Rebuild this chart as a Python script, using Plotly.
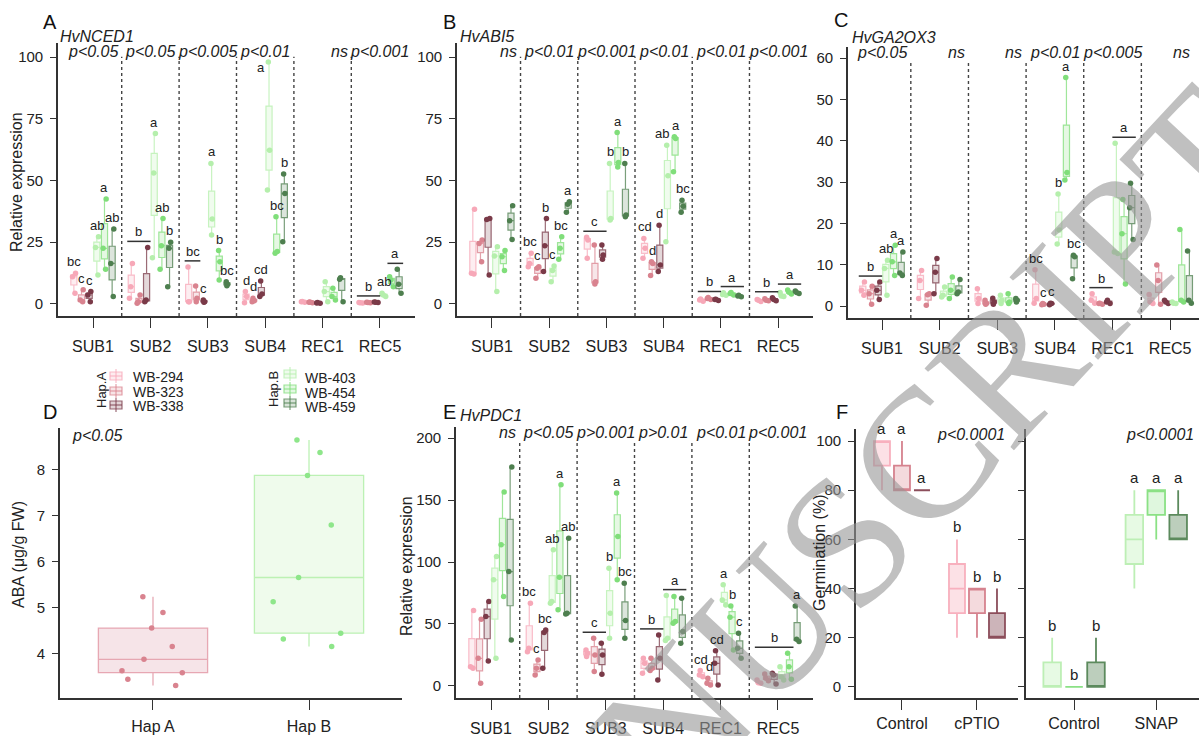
import plotly.graph_objects as go

W, H = 1199, 736
FONT = "Liberation Sans, Arial, sans-serif"

TIMEPOINTS = ["SUB1", "SUB2", "SUB3", "SUB4", "REC1", "REC5"]
GENOTYPES = ["WB-294", "WB-323", "WB-338", "WB-403", "WB-454", "WB-459"]
BASE_RGB = [(247, 168, 184), (217, 131, 143), (122, 58, 72),
            (181, 239, 172), (128, 222, 122), (78, 127, 79)]

# ---------------- HvNCED1 (panel A): 3 replicates per time point ----------------
NCED1_294 = [[12.4, 11.0, 4.3], [16.4, 7.0, 2.3], [15.0, 0.9, 0.9], [5.0, 3.0, 0.5], [1.0, 0.9, 0.7], [0.6, 0.4, 0.5]]
NCED1_323 = [[5.7, 1.6, 0.9], [3.6, 0.9, 0.3], [7.3, 2.3, 0.9], [2.3, 1.3, 0.9], [0.8, 0.7, 0.5], [0.7, 0.5, 0.6]]
NCED1_338 = [[5.0, 3.6, 0.9], [22.9, 1.6, 0.9], [1.6, 0.9, 0.7], [9.3, 4.0, 3.0], [0.6, 0.4, 0.3], [0.8, 0.6, 0.7]]
NCED1_403 = [[27.2, 22.9, 11.7], [69.0, 53.0, 18.7], [56.9, 34.4, 27.9], [98.0, 62.3, 46.1], [9.0, 5.0, 0.9], [4.3, 3.6, 3.0]]
NCED1_454 = [[42.5, 22.5, 14.0], [34.6, 23.6, 14.0], [21.6, 17.1, 9.7], [35.3, 21.2, 20.5], [6.3, 3.0, 1.6], [11.0, 9.7, 7.0]]
NCED1_459 = [[30.3, 16.4, 3.0], [25.0, 22.5, 7.0], [9.0, 8.0, 7.4], [52.6, 44.7, 25.2], [10.6, 10.0, 0.9], [14.0, 8.0, 4.3]]
NCED1_P = ["p<0.05", "p<0.05", "p<0.005", "p<0.01", "ns", "p<0.001"]
NCED1_LETTERS = [(0, 0, 0, "bc"), (0, 1, 1, "c"), (0, 2, 2, "c"), (0, 3, 3, "ab"), (0, 4, 4, "a"), (0, 5, 5, "ab"),
                 (1, 0, 2, "b"), (1, 3, 3, "a"), (1, 4, 4, "ab"), (1, 5, 5, "b"),
                 (2, 0, 1, "bc"), (2, 2, 2, "c"), (2, 3, 3, "a"), (2, 4, 4, "b"), (2, 5, 5, "bc"),
                 (3, 0, 0, "d"), (3, 1, 1, "d"), (3, 2, 2, "cd"), (3, 3, 3, "a", -8, -17), (3, 4, 4, "bc"), (3, 5, 5, "b"),
                 (5, 0, 2, "b"), (5, 3, 3, "ab"), (5, 4, 5, "a")]

# ---------------- HvABI5 (panel B) ----------------
ABI5_294 = [[38.3, 12.4, 12.1], [20.5, 16.4, 15.1], [27.0, 25.9, 18.5], [26.5, 22.5, 18.5], [2.0, 1.6, 1.1], [1.8, 1.5, 1.0]]
ABI5_323 = [[25.9, 24.5, 17.1], [15.1, 14.4, 10.4], [23.9, 9.0, 8.1], [17.1, 16.4, 11.5], [2.6, 2.2, 1.8], [2.1, 1.5, 1.3]]
ABI5_338 = [[34.6, 34.2, 11.7], [34.6, 23.6, 13.1], [23.9, 19.8, 18.1], [31.9, 15.8, 13.1], [1.9, 1.8, 1.4], [2.5, 1.8, 1.3]]
ABI5_403 = [[23.2, 19.4, 5.0], [15.4, 13.5, 9.0], [56.9, 34.6, 34.0], [64.3, 51.9, 25.2], [4.5, 3.8, 3.5], [4.6, 3.2, 3.0]]
ABI5_454 = [[21.6, 19.1, 13.5], [27.2, 22.5, 18.1], [69.4, 57.3, 55.5], [67.7, 67.0, 53.5], [4.6, 4.2, 3.6], [5.6, 4.7, 4.0]]
ABI5_459 = [[39.8, 33.7, 26.1], [41.4, 40.4, 37.1], [56.9, 36.0, 35.3], [42.0, 39.6, 37.1], [3.5, 3.2, 2.9], [5.2, 4.6, 4.2]]
ABI5_P = ["ns", "p<0.01", "p<0.001", "p<0.01", "p<0.01", "p<0.001"]
ABI5_LETTERS = [(1, 0, 0, "bc"), (1, 1, 1, "c"), (1, 2, 2, "b"), (1, 3, 3, "c"), (1, 4, 4, "bc"), (1, 5, 5, "a"),
                (2, 0, 2, "c"), (2, 3, 3, "b"), (2, 4, 4, "a"), (2, 5, 5, "b"),
                (3, 0, 0, "cd"), (3, 1, 1, "d"), (3, 2, 2, "d"), (3, 3, 3, "ab", -5, 0), (3, 4, 4, "a", 1, 0), (3, 5, 5, "bc"),
                (4, 0, 2, "b"), (4, 3, 5, "a"), (5, 0, 2, "b"), (5, 3, 5, "a")]

# ---------------- HvGA2OX3 (panel C) ----------------
GA2OX3_294 = [[5.8, 3.8, 2.6], [8.6, 6.2, 1.8], [4.2, 1.8, 0.6], [8.8, 1.8, 0.7], [3.0, 1.4, 0.7], [2.8, 1.0, 0.6]]
GA2OX3_323 = [[4.8, 3.0, 0.4], [3.0, 2.7, 0.2], [1.4, 0.6, 0.4], [0.6, 0.4, 0.3], [0.7, 0.6, 0.4], [9.9, 6.2, 0.4]]
GA2OX3_338 = [[5.8, 3.8, 1.6], [11.5, 8.2, 3.0], [1.9, 1.0, 0.4], [0.7, 0.6, 0.3], [1.4, 1.0, 0.6], [1.4, 1.0, 0.6]]
GA2OX3_403 = [[11.1, 9.1, 2.6], [4.6, 2.6, 2.2], [2.6, 1.4, 0.6], [27.1, 18.4, 15.0], [39.4, 13.1, 12.7], [1.0, 0.7, 0.6]]
GA2OX3_454 = [[14.7, 10.7, 7.4], [7.0, 3.8, 1.8], [3.0, 1.0, 0.6], [55.3, 32.3, 30.5], [25.8, 17.5, 5.3], [18.5, 1.4, 1.0]]
GA2OX3_459 = [[13.1, 8.0, 7.4], [6.4, 3.4, 3.0], [1.8, 1.4, 1.0], [12.3, 11.9, 6.6], [29.7, 23.8, 16.1], [13.3, 1.4, 0.7]]
GA2OX3_P = ["p<0.05", "ns", "ns", "p<0.01", "p<0.005", "ns"]
GA2OX3_LETTERS = [(0, 0, 2, "b"), (0, 3, 3, "ab"), (0, 4, 4, "a"), (0, 5, 5, "a"),
                  (3, 0, 0, "bc"), (3, 1, 1, "c"), (3, 2, 2, "c"), (3, 3, 3, "b"), (3, 4, 4, "a"), (3, 5, 5, "bc"),
                  (4, 0, 2, "b"), (4, 3, 5, "a")]

# ---------------- HvPDC1 (panel E) ----------------
PDC1_294 = [[60.8, 15.6, 14.3], [66.8, 30.4, 27.7], [29.0, 26.4, 23.7], [22.3, 18.3, 10.2], [12.4, 8.9, 7.5], [4.8, 2.7, 2.2]]
PDC1_323 = [[53.8, 22.3, 2.2], [21.0, 14.3, 8.9], [38.5, 25.0, 11.6], [22.3, 14.3, 12.4], [6.2, 2.2, 0.8], [9.7, 6.2, 4.3]]
PDC1_338 = [[68.1, 56.0, 20.2], [45.2, 43.1, 14.3], [34.5, 25.0, 9.4], [41.2, 22.3, 4.8], [28.5, 18.3, 0.8], [10.2, 8.9, 1.6]]
PDC1_403 = [[104.4, 85.6, 22.3], [109.8, 68.1, 66.8], [95.0, 58.7, 38.5], [72.9, 38.5, 36.6], [81.6, 69.4, 65.4], [15.6, 7.5, 4.8]]
PDC1_454 = [[156.4, 113.9, 72.1], [162.3, 87.8, 61.4], [155.6, 120.6, 85.6], [72.1, 52.0, 50.6], [64.6, 55.5, 29.1], [26.4, 15.6, 5.4]]
PDC1_459 = [[176.6, 92.3, 37.1], [119.2, 58.7, 58.1], [82.9, 52.8, 38.5], [70.8, 43.9, 34.5], [42.5, 30.4, 22.3], [64.6, 37.7, 35.8]]
PDC1_P = ["ns", "p<0.05", "p>0.001", "p>0.01", "p<0.01", "p<0.001"]
PDC1_LETTERS = [(1, 0, 0, "bc"), (1, 1, 1, "c"), (1, 2, 2, "bc"), (1, 3, 3, "ab"), (1, 4, 4, "a"), (1, 5, 5, "ab"),
                (2, 0, 2, "c"), (2, 3, 3, "b"), (2, 4, 4, "a"), (2, 5, 5, "bc"),
                (3, 0, 2, "b"), (3, 3, 5, "a"),
                (4, 0, 0, "cd"), (4, 1, 1, "d"), (4, 2, 2, "cd"), (4, 3, 3, "a"), (4, 4, 4, "b"), (4, 5, 5, "c"),
                (5, 0, 4, "b"), (5, 5, 5, "a")]

# ---------------- ABA content (panel D) ----------------
HAPLOTYPES = ["Hap A", "Hap B"]
ABA_HAPA = [5.24, 4.90, 4.56, 4.16, 3.88, 3.63, 3.59, 3.45, 3.31]
ABA_HAPB = [8.65, 8.38, 7.88, 6.80, 5.66, 5.13, 4.45, 4.32, 4.16]

# ---------------- Germination (panel F) ----------------
CPTIO_TREAT = ["Control", "cPTIO"]
SNAP_TREAT = ["Control", "SNAP"]
GERM_294 = [[80, 90, 100, 100, 100], [20, 30, 40, 50, 60]]
GERM_323 = [[80, 80, 80, 90, 100], [20, 30, 40, 40, 40]]
GERM_338 = [[80, 80, 80, 80, 80], [20, 20, 20, 30, 40]]
GERM_403 = [[0, 0, 0, 10, 20], [40, 50, 60, 70, 80]]
GERM_454 = [[0, 0, 0, 0, 0], [60, 70, 80, 80, 80]]
GERM_459 = [[0, 0, 0, 10, 20], [60, 60, 60, 70, 80]]
GERM_CPTIO_LETTERS = [(0, 0, "a"), (0, 1, "a"), (0, 2, "a"), (1, 0, "b"), (1, 1, "b"), (1, 2, "b")]
GERM_SNAP_LETTERS = [(0, 0, "b"), (0, 1, "b"), (0, 2, "b"), (1, 0, "a"), (1, 1, "a"), (1, 2, "a")]


def rgba(c, a):
    return f"rgba({c[0]},{c[1]},{c[2]},{a})"


def px(x):
    return x / W


def py(y):
    return 1 - y / H


fig = go.Figure()
annotations = []
shapes = []

# watermark first, so every other text is drawn above it
annotations.append(dict(x=px(830), y=py(555), xref="paper", yref="paper", text="MANUSCRIPT",
                        textangle=-47, showarrow=False, xanchor="center", yanchor="middle",
                        font=dict(family="Liberation Serif, Times New Roman, serif", size=185,
                                  color="rgba(150,150,150,0.6)")))

AX_LINE = dict(showline=True, linecolor="#333333", linewidth=1.6, ticks="outside",
               tickcolor="#333333", tickwidth=1.4, showgrid=False, zeroline=False,
               tickfont=dict(family=FONT, size=15, color="#222222"))


def set_axes(n, domx, domy, xr, yr, cats, yticks, xstand=5, ylabels=True):
    sfx = "" if n == 1 else str(n)
    xa = dict(AX_LINE, domain=[px(domx[0]), px(domx[1])], range=list(xr), type="category",
              categoryorder="array", categoryarray=cats, ticklen=10, anchor="y" + sfx,
              tickfont=dict(family=FONT, size=16, color="#222222"), ticklabelstandoff=xstand)
    ya = dict(AX_LINE, domain=[py(domy[1]), py(domy[0])], range=list(yr), tickvals=yticks,
              ticklen=6, anchor="x" + sfx, showticklabels=ylabels, ticklabelstandoff=4)
    fig.update_layout(**{"xaxis" + sfx: xa, "yaxis" + sfx: ya})


def group_offset(k, n):
    return 0.8 * ((k + 0.5) / n - 0.5)


def add_expression_panel(n, series, pvals, letters, domx, domy, xr, yr, yticks, pv_y):
    sfx = "" if n == 1 else str(n)
    set_axes(n, domx, domy, xr, yr, TIMEPOINTS, yticks)
    for g, vals in enumerate(series):
        xs, ys = [], []
        for t, tp in enumerate(TIMEPOINTS):
            xs += [tp] * len(vals[t])
            ys += vals[t]
        c = BASE_RGB[g]
        fig.add_trace(go.Box(
            x=xs, y=ys, name=GENOTYPES[g], xaxis="x" + sfx, yaxis="y" + sfx,
            offsetgroup=GENOTYPES[g], alignmentgroup="panel" + str(n),
            boxpoints="all", jitter=0.7, pointpos=0, whiskerwidth=0,
            quartilemethod="inclusive",
            line=dict(color=rgba(c, 0.75), width=1.2), fillcolor=rgba(c, 0.2),
            marker=dict(color=rgba(c, 1.0), size=5.5), showlegend=False))
    # dotted separators between time points
    for s in range(len(TIMEPOINTS) - 1):
        shapes.append(dict(type="line", xref="x" + sfx, yref="y" + sfx + " domain",
                           x0=s + 0.5, x1=s + 0.5, y0=0, y1=0.95,
                           line=dict(color="#444444", width=1.4, dash="dot")))

    # p-values (placed in paper space from the axis geometry)
    def to_paper_x(v):
        return px(domx[0] + (v - xr[0]) / (xr[1] - xr[0]) * (domx[1] - domx[0]))
    y_paper = py(domy[1] - pv_y * (domy[1] - domy[0]))
    for t, p in enumerate(pvals):
        if p == "ns":
            annotations.append(dict(x=to_paper_x(min(t + 0.47, xr[1] - 0.12)), y=y_paper, xref="paper",
                                    yref="paper", text="<i>ns</i>", xanchor="right", yanchor="middle",
                                    showarrow=False, font=dict(family=FONT, size=16, color="#222222")))
        else:
            annotations.append(dict(x=to_paper_x(t), y=y_paper, xref="paper", yref="paper",
                                    text="<i>" + p.replace("<", "&lt;").replace(">", "&gt;") + "</i>",
                                    xanchor="center", yanchor="middle", showarrow=False,
                                    font=dict(family=FONT, size=16, color="#222222")))
    # significance letters
    for item in letters:
        t, k0, k1, lab = item[:4]
        dx, dy = (item[4], item[5]) if len(item) > 4 else (0, 0)
        top = max(max(series[k][t]) for k in range(k0, k1 + 1))
        xa0 = t + group_offset(k0, 6)
        xa1 = t + group_offset(k1, 6)
        if k1 > k0:
            shapes.append(dict(type="line", xref="x" + sfx, yref="y" + sfx, ysizemode="pixel",
                               yanchor=top, x0=xa0 - 0.07, x1=xa1 + 0.07, y0=6, y1=6,
                               line=dict(color="#333333", width=1.5)))
            annotations.append(dict(x=(xa0 + xa1) / 2, y=top, xref="x" + sfx, yref="y" + sfx,
                                    text=lab, yshift=6 + dy, xshift=dx, xanchor="center", yanchor="bottom",
                                    showarrow=False, font=dict(family=FONT, size=13, color="#222222")))
        else:
            annotations.append(dict(x=xa0, y=top, xref="x" + sfx, yref="y" + sfx,
                                    text=lab, yshift=2 + dy, xshift=dx, xanchor="center", yanchor="bottom",
                                    showarrow=False, font=dict(family=FONT, size=13, color="#222222")))


add_expression_panel(1, [NCED1_294, NCED1_323, NCED1_338, NCED1_403, NCED1_454, NCED1_459],
                     NCED1_P, NCED1_LETTERS, (58, 415), (43, 316), (-0.61, 5.61), (-4.9, 105.7),
                     [0, 25, 50, 75, 100], 0.97)
add_expression_panel(2, [ABI5_294, ABI5_323, ABI5_338, ABI5_403, ABI5_454, ABI5_459],
                     ABI5_P, ABI5_LETTERS, (457, 813), (43, 316), (-0.61, 5.61), (-4.9, 105.7),
                     [0, 25, 50, 75, 100], 0.97)
add_expression_panel(3, [GA2OX3_294, GA2OX3_323, GA2OX3_338, GA2OX3_403, GA2OX3_454, GA2OX3_459],
                     GA2OX3_P, GA2OX3_LETTERS, (848, 1199), (47, 318), (-0.59, 5.5), (-2.9, 62.7),
                     [0, 10, 20, 30, 40, 50, 60], 0.98)
add_expression_panel(5, [PDC1_294, PDC1_323, PDC1_338, PDC1_403, PDC1_454, PDC1_459],
                     PDC1_P, PDC1_LETTERS, (456, 813), (427, 698), (-0.61, 5.61), (-9.7, 208.9),
                     [0, 50, 100, 150, 200], 0.978)

# ---------------- panel D ----------------
set_axes(4, (60, 402), (428, 698), (-0.596, 1.596), (3.04, 8.91), HAPLOTYPES, [4, 5, 6, 7, 8], xstand=3)
for hap, vals, c, line_c, fill_c in [("Hap A", ABA_HAPA, (217, 131, 143), "rgba(228,160,172,0.9)", "rgba(236,196,204,0.45)"),
                                     ("Hap B", ABA_HAPB, (142, 230, 138), "rgba(184,240,176,0.95)", "rgba(214,246,208,0.4)")]:
    fig.add_trace(go.Box(x=[hap] * len(vals), y=vals, name=hap, xaxis="x4", yaxis="y4", width=0.7,
                         boxpoints="all", jitter=0.8, pointpos=0, whiskerwidth=0, quartilemethod="inclusive",
                         line=dict(color=line_c, width=1.3), fillcolor=fill_c,
                         marker=dict(color=rgba(c, 1.0), size=5.5), showlegend=False))
annotations.append(dict(x=px(70), y=py(435), xref="paper", yref="paper", text="<i>p&lt;0.05</i>",
                        xanchor="left", yanchor="middle", showarrow=False,
                        font=dict(family=FONT, size=16, color="#222222")))

# ---------------- panel F ----------------
set_axes(6, (856, 1018), (429, 698), (-0.613, 1.547), (-4.5, 104.9), CPTIO_TREAT, [0, 20, 40, 60, 80, 100], xstand=0)
set_axes(7, (1026, 1199), (429, 698), (-0.585, 1.52), (-4.5, 104.9), SNAP_TREAT, [0, 20, 40, 60, 80, 100], xstand=0,
         ylabels=False)
F_STYLE = [((247, 168, 184), "rgba(248,176,190,1)", 0.35), ((217, 131, 143), "rgba(213,130,142,1)", 0.3),
           ((122, 58, 72), "rgba(140,78,91,1)", 0.38), ((181, 239, 172), "rgba(189,239,181,1)", 0.32),
           ((128, 222, 122), "rgba(139,225,133,1)", 0.25), ((78, 127, 79), "rgba(92,138,93,1)", 0.38)]
for n, cats, series, gidx, letters in [(6, CPTIO_TREAT, [GERM_294, GERM_323, GERM_338], [0, 1, 2], GERM_CPTIO_LETTERS),
                                       (7, SNAP_TREAT, [GERM_403, GERM_454, GERM_459], [3, 4, 5], GERM_SNAP_LETTERS)]:
    for j, vals in enumerate(series):
        g = gidx[j]
        xs, ys = [], []
        for t, tr in enumerate(cats):
            xs += [tr] * len(vals[t])
            ys += vals[t]
        base, line_c, fa = F_STYLE[g]
        fig.add_trace(go.Box(x=xs, y=ys, name=GENOTYPES[g], xaxis="x" + str(n), yaxis="y" + str(n),
                             offsetgroup=GENOTYPES[g], alignmentgroup="panel" + str(n),
                             boxpoints=False, whiskerwidth=0, quartilemethod="inclusive",
                             line=dict(color=line_c, width=1.8), fillcolor=rgba(base, fa), showlegend=False))
    for (t, k, lab) in letters:
        top = max(series[k][t])
        annotations.append(dict(x=t + group_offset(k, 3), y=top, xref="x" + str(n), yref="y" + str(n),
                                text=lab, yshift=2, xanchor="center", yanchor="bottom", showarrow=False,
                                font=dict(family=FONT, size=15, color="#222222")))
annotations.append(dict(x=0.92, y=0.978, xref="x6", yref="y6 domain", text="<i>p&lt;0.0001</i>",
                        xanchor="center", yanchor="middle", showarrow=False,
                        font=dict(family=FONT, size=16, color="#222222")))
annotations.append(dict(x=1.05, y=0.978, xref="x7", yref="y7 domain", text="<i>p&lt;0.0001</i>",
                        xanchor="center", yanchor="middle", showarrow=False,
                        font=dict(family=FONT, size=16, color="#222222")))

# ---------------- panel letters, gene names, y titles ----------------
for lab, x, y in [("A", 50, 22), ("B", 449, 22), ("C", 841, 20), ("D", 50, 412), ("E", 449, 412), ("F", 842, 412)]:
    annotations.append(dict(x=px(x), y=py(y), xref="paper", yref="paper", text=lab, showarrow=False,
                            xanchor="center", yanchor="middle", font=dict(family=FONT, size=20, color="#111111")))
for gene, x, y in [("HvNCED1", 58, 36), ("HvABI5", 458, 36), ("HvGA2OX3", 850, 37), ("HvPDC1", 458, 416)]:
    annotations.append(dict(x=px(x), y=py(y), xref="paper", yref="paper", text="<i>" + gene + "</i>",
                            showarrow=False, xanchor="left", yanchor="middle",
                            font=dict(family=FONT, size=16, color="#222222")))
for title, x, y in [("Relative expression", 17, 182), ("ABA (μg/g FW)", 18, 555),
                    ("Relative expression", 406, 566), ("Germination (%)", 819, 553)]:
    annotations.append(dict(x=px(x), y=py(y), xref="paper", yref="paper", text=title, textangle=-90,
                            showarrow=False, xanchor="center", yanchor="middle",
                            font=dict(family=FONT, size=16, color="#222222")))

# ---------------- manual legend ----------------
legend_layout = [("Hap.A", 101, 390, [0, 1, 2], 116, [376, 391, 405], 131, [377, 392, 406]),
                 ("Hap.B", 273, 389, [3, 4, 5], 290, [374, 389, 403], 303, [378, 393, 407])]
for title, tx, ty, gs, icx, icys, lx, lys in legend_layout:
    annotations.append(dict(x=px(tx), y=py(ty), xref="paper", yref="paper", text=title, textangle=-90,
                            showarrow=False, xanchor="center", yanchor="middle",
                            font=dict(family=FONT, size=13, color="#222222")))
    for g, cy, ly in zip(gs, icys, lys):
        c = BASE_RGB[g]
        shapes.append(dict(type="rect", xref="paper", yref="paper", x0=px(icx - 6), x1=px(icx + 6),
                           y0=py(cy + 4), y1=py(cy - 4), line=dict(color=rgba(c, 0.75), width=1.2),
                           fillcolor=rgba(c, 0.22)))
        shapes.append(dict(type="line", xref="paper", yref="paper", x0=px(icx - 6), x1=px(icx + 6),
                           y0=py(cy), y1=py(cy), line=dict(color=rgba(c, 0.75), width=1.2)))
        shapes.append(dict(type="line", xref="paper", yref="paper", x0=px(icx), x1=px(icx),
                           y0=py(cy + 7), y1=py(cy - 7), line=dict(color=rgba(c, 0.75), width=1.2)))
        annotations.append(dict(x=px(lx), y=py(ly), xref="paper", yref="paper", text=GENOTYPES[g],
                                showarrow=False, xanchor="left", yanchor="middle",
                                font=dict(family=FONT, size=14, color="#222222")))

fig.update_layout(width=W, height=H, autosize=False, margin=dict(l=0, r=0, t=0, b=0),
                  paper_bgcolor="white", plot_bgcolor="white", boxmode="group",
                  boxgap=0.2, boxgroupgap=0.2, showlegend=False,
                  annotations=annotations, shapes=shapes,
                  font=dict(family=FONT, color="#222222"))

fig.write_html("out.html", config={"displayModeBar": False},
               post_script="document.body.style.margin='0px';document.body.style.overflow='hidden';")
